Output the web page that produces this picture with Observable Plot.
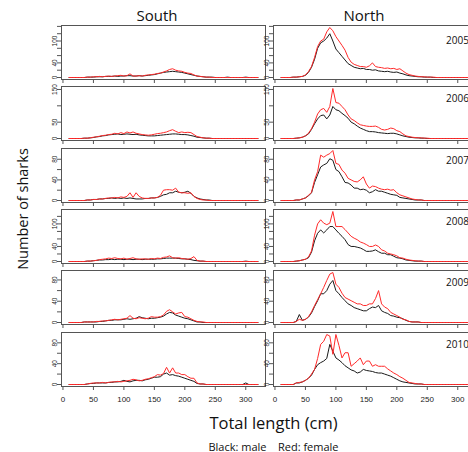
<!DOCTYPE html>
<html><head><meta charset="utf-8">
<script src="https://cdn.jsdelivr.net/npm/d3@7"></script>
<script src="https://cdn.jsdelivr.net/npm/@observablehq/plot@0.6"></script>
<style>
html,body{margin:0;padding:0;overflow:hidden;background:#fff;}
#fig{position:relative;width:468px;height:452px;overflow:hidden;font-family:"Open Sans",sans-serif;color:#111;}
.lbl{position:absolute;white-space:pre;transform:translate(-50%,-50%);line-height:1;}
svg{position:absolute;}
</style></head><body><div id="fig"></div>
<script>
// ---- data ----
const lengths = [10,15,20,25,30,35,40,45,50,55,60,65,70,75,80,85,90,95,100,105,110,115,120,125,130,135,140,145,150,155,160,165,170,175,180,185,190,195,200,205,210,215,220,225,230,235,240,245,250,255,260,265,270,275,280,285,290,295,300,305,310,315,320];
const years = ["2005","2006","2007","2008","2009","2010"];
const regions = ["South","North"];
const xTicks = [0,50,100,150,200,250,300];
const yTicks = [[0,20,40,60,80,100,120,140],[0,50,100,150],[0,20,40,60,80],[0,20,40,60,80,100,120],[0,20,40,60,80],[0,20,40,60,80]];
const yTickLabels = [[0,40,100],[0,50,150],[0,40,80],[0,40,100],[0,40,80],[0,40,80]];

const southMale2005 = [0,0,0,0,0,0,1,1,1,2, 2,2,3,3,3,4,3,4,4,5, 5,4,4,5,4,5,6,7,8,10, 12,14,15,16,17,16,15,14,12,10, 8,6,4,3,2,1,1,1,0,0, 0,0,1,0,0,0,0,0,1,0, 0,0,0];
const southFemale2005 = [0,0,0,0,0,0,1,1,2,2, 3,2,3,4,3,4,5,6,4,5, 10,4,4,5,4,6,7,8,9,11, 12,15,18,22,24,20,18,17,14,12, 11,7,4,3,2,1,1,0,0,0, 0,0,0,0,0,0,0,0,0,0, 0,0,0];
const northMale2005 = [0,0,0,0,1,1,2,3,6,14, 28,50,80,95,100,108,120,100,78,68, 58,48,38,33,28,26,24,25,22,22, 20,21,18,17,16,17,15,14,15,12, 10,7,5,4,3,2,2,1,1,1, 0,0,0,0,0,0,0,0,0,0, 0,0,0];
const northFemale2005 = [0,0,0,0,1,1,2,3,7,16, 30,55,85,100,105,125,137,128,112,100, 88,75,55,42,36,33,30,30,28,32, 40,30,28,27,25,26,24,25,22,24, 18,12,8,6,4,3,2,2,1,1, 1,0,0,0,0,0,0,0,0,0, 0,0,0];

const southMale2006 = [0,0,0,0,0,1,1,2,3,5, 6,8,9,11,12,13,14,12,13,14, 13,12,13,11,10,9,8,8,8,9, 10,11,12,13,14,14,13,12,12,11, 9,7,4,3,2,1,1,0,0,0, 0,0,0,0,0,0,0,0,0,0, 0,0,0];
const southFemale2006 = [0,0,0,0,0,1,1,2,4,5, 7,9,10,12,13,16,14,18,15,20, 17,20,16,14,12,11,10,11,13,15, 16,18,20,24,27,22,18,20,18,19, 18,12,6,4,2,1,1,0,0,0, 0,0,0,0,0,0,0,0,0,0, 0,0,0];
const northMale2006 = [0,0,0,0,0,1,2,4,8,14, 28,45,60,70,72,60,72,98,88,85, 77,70,62,50,45,38,32,28,24,21, 21,20,18,17,16,15,16,16,14,11, 8,6,4,3,2,2,1,1,0,0, 0,0,0,0,0,0,0,0,0,0, 0,0,0];
const northFemale2006 = [0,0,0,0,0,1,2,4,8,16, 30,50,75,88,92,80,98,153,110,108, 98,88,72,60,55,48,42,40,38,37, 37,38,34,28,26,28,32,30,24,21, 14,8,6,4,3,2,2,1,1,0, 0,0,0,0,0,0,0,0,0,0, 0,0,0];

const southMale2007 = [0,0,0,0,0,0,1,1,2,2, 3,3,4,4,5,4,5,4,5,4, 5,4,3,3,3,4,4,5,5,6, 8,11,12,15,15,18,16,15,16,18, 14,8,5,3,2,1,1,0,0,0, 0,0,0,0,0,0,0,0,0,0, 0,0,0];
const southFemale2007 = [0,0,0,0,0,0,1,1,2,2, 3,3,4,5,5,6,5,7,6,8, 15,6,15,8,5,4,4,5,5,6, 10,20,21,21,20,24,16,15,15,14, 15,8,4,2,1,1,0,0,0,0, 0,0,0,0,0,0,0,0,0,0, 0,0,0];
const northMale2007 = [0,0,0,0,0,1,1,3,5,9, 15,35,50,65,69,72,81,78,60,56, 46,35,34,30,24,24,21,22,20,15, 17,21,18,18,16,14,12,11,10,6, 5,4,3,2,1,1,1,0,0,0, 0,0,0,0,0,0,0,0,0,0, 0,0,0];
const northFemale2007 = [0,0,0,0,0,1,1,3,5,10, 16,40,56,88,84,88,91,97,72,70, 59,53,43,40,37,36,40,46,32,24, 28,27,24,22,21,22,20,21,15,11, 9,7,5,3,2,1,1,0,0,0, 0,0,0,0,0,0,0,0,0,0, 0,0,0];

const southMale2008 = [0,0,0,0,0,0,1,1,2,3, 4,4,5,5,6,5,6,6,5,6, 6,5,6,6,5,6,6,6,6,7, 7,8,9,9,9,9,8,7,7,6, 5,3,2,1,1,0,0,0,0,0, 0,0,0,0,0,0,0,0,1,0, 0,0,0];
const southFemale2008 = [0,0,0,0,0,0,1,1,2,3, 5,6,7,9,8,10,8,7,9,6, 8,10,7,6,7,7,6,8,7,9, 8,11,12,15,10,9,10,8,7,6, 8,13,3,1,1,0,0,0,0,0, 0,0,0,0,0,0,0,0,0,0, 0,0,0];
const northMale2008 = [0,0,0,0,0,1,2,4,6,10, 25,55,75,84,76,84,93,93,84,75, 67,58,45,40,40,38,36,32,27,27, 28,31,26,22,22,18,18,14,10,9, 7,4,3,2,1,1,1,0,0,0, 0,0,0,0,0,0,0,0,0,0, 0,0,0];
const northFemale2008 = [0,0,0,0,0,1,2,4,6,12, 28,70,100,111,102,98,102,133,93,93, 93,85,76,67,62,58,52,49,45,40, 40,44,40,31,28,22,20,18,15,10, 9,6,4,3,2,1,1,0,0,0, 0,0,0,0,0,0,0,0,0,0, 0,0,0];

const southMale2009 = [0,0,0,0,0,1,1,1,1,1, 2,2,3,4,4,5,5,5,6,7, 6,7,8,11,9,8,7,8,8,9, 10,12,16,19,18,14,12,10,8,7, 5,3,1,1,0,0,0,0,0,0, 0,0,0,0,0,0,0,0,0,0, 0,0,0];
const southFemale2009 = [0,0,0,0,0,1,1,1,1,2, 2,3,3,4,5,6,5,6,7,8, 13,8,7,9,8,7,8,11,10,10, 11,14,21,24,20,16,18,19,11,10, 7,4,2,1,1,0,0,0,0,0, 0,0,0,0,0,0,0,0,0,0, 0,0,0];
const northMale2009 = [0,0,0,0,0,2,15,4,6,10, 18,30,41,54,54,60,72,79,60,54, 47,41,35,32,28,26,24,22,22,26, 29,28,32,22,19,17,13,12,10,9, 7,4,2,1,1,1,0,0,0,0, 0,0,0,0,0,0,0,0,0,0, 0,0,0];
const northFemale2009 = [0,0,0,0,0,2,6,4,6,11, 20,32,43,54,66,79,91,94,72,66, 55,47,44,41,38,35,35,32,32,35, 35,45,60,35,29,26,19,16,13,10, 6,5,2,1,1,1,0,0,0,0, 0,0,0,0,0,0,0,0,0,0, 0,0,0];

const southMale2010 = [0,0,0,0,0,0,1,2,2,3, 3,3,3,4,4,5,5,6,8,6, 5,7,8,8,7,9,10,12,14,14, 15,20,22,18,19,17,16,14,12,10, 8,6,2,1,1,0,0,0,0,0, 0,0,0,0,0,0,0,0,3,0, 0,0,0];
const southFemale2010 = [0,0,0,0,0,0,1,2,3,3, 3,4,3,4,5,5,6,5,6,7, 8,10,9,7,8,10,11,13,15,19, 18,21,33,22,32,22,22,19,19,15, 12,12,3,1,1,0,0,0,0,0, 0,0,0,0,0,0,0,0,0,0, 0,0,0];
const northMale2010 = [0,0,0,0,0,3,3,5,8,12, 18,29,38,42,45,50,77,64,51,47, 42,36,32,28,26,22,24,29,27,26, 25,23,22,22,20,18,16,13,10,7, 5,4,3,2,1,1,1,0,0,0, 0,0,0,0,0,0,0,0,0,0, 0,0,0];
const northFemale2010 = [0,0,0,0,0,3,4,5,8,12, 20,29,50,77,83,96,93,58,96,75, 51,61,61,35,40,45,51,38,45,45, 35,38,35,35,35,30,26,22,19,15, 12,8,4,3,2,1,1,0,0,0, 0,0,0,0,0,0,0,0,0,0, 0,0,0];

const series = {
  South: {"2005":[southMale2005,southFemale2005],"2006":[southMale2006,southFemale2006],"2007":[southMale2007,southFemale2007],"2008":[southMale2008,southFemale2008],"2009":[southMale2009,southFemale2009],"2010":[southMale2010,southFemale2010]},
  North: {"2005":[northMale2005,northFemale2005],"2006":[northMale2006,northFemale2006],"2007":[northMale2007,northFemale2007],"2008":[northMale2008,northFemale2008],"2009":[northMale2009,northFemale2009],"2010":[northMale2010,northFemale2010]}
};

// ---- layout ----
const fig = document.getElementById("fig");
const FW = 204, FH = 54;
const colLeft = {South: 61, North: 273};
const rowTop = [25, 86, 148, 209, 270, 332];
const xMin = d3.min(lengths), xMax = d3.max(lengths), xPad = 0.04 * (xMax - xMin);

function panel(region, r) {
  const year = years[r];
  const [male, female] = series[region][year];
  const last = r === years.length - 1;
  const ML = 22, MR = 2, MT = 2, MB = last ? 24 : 8;
  const rowMax = d3.max(regions.flatMap(g => series[g][year].flat()));
  const pad = 0.04 * rowMax;
  const rows = arr => lengths.map((x, i) => ({x, n: arr[i]}));
  const marks = [
    Plot.axisY({ticks: yTicks[r], tickSize: 4, tickRotate: -90, tickPadding: 1, fontSize: 6.5,
      stroke: "#555", fill: "#222", tickFormat: d => yTickLabels[r].includes(d) ? String(d) : ""}),
    Plot.axisX({ticks: xTicks, tickSize: 4, tickPadding: 6, fontSize: 8, stroke: "#555", fill: "#222",
      tickFormat: d => last ? String(d) : ""}),
    Plot.lineY(rows(male), {x: "x", y: "n", stroke: "#1a1a1a", strokeWidth: 1}),
    Plot.lineY(rows(female), {x: "x", y: "n", stroke: "#ff2a2a", strokeWidth: 1}),
    Plot.frame({stroke: "#555", strokeWidth: 1})
  ];
  if (region === "North") {
    marks.push(Plot.text([year], {text: d => d, frameAnchor: "top-right", textAnchor: "middle", lineAnchor: "middle",
      dx: -20, dy: r === 0 ? 15 : 12, fontSize: 10, fill: "#111", fontFamily: "Open Sans"}));
  }
  const svg = Plot.plot({
    width: ML + FW + MR, height: MT + FH + MB,
    marginLeft: ML, marginRight: MR, marginTop: MT, marginBottom: MB,
    x: {domain: [xMin - xPad, xMax + xPad], label: null},
    y: {domain: [-pad, rowMax + pad], label: null},
    style: {fontFamily: "Liberation Sans", background: "transparent", overflow: "visible"},
    marks
  });
  svg.style.left = (colLeft[region] - ML) + "px";
  svg.style.top = (rowTop[r] - MT) + "px";
  fig.appendChild(svg);
}
years.forEach((y, r) => regions.forEach(g => panel(g, r)));

function label(text, x, y, size, rotate) {
  const d = document.createElement("div");
  d.className = "lbl";
  d.textContent = text;
  d.style.left = x + "px";
  d.style.top = y + "px";
  d.style.fontSize = size + "px";
  if (rotate) d.style.transform = "translate(-50%,-50%) rotate(-90deg)";
  fig.appendChild(d);
}
label("South", 157, 15, 15);
label("North", 364, 15, 15);
label("Number of sharks", 23, 209, 14.5, true);
label("Total length (cm)", 273.5, 423, 16.5);
label("Black: male    Red: female", 273.5, 446, 11);
</script></body></html>
